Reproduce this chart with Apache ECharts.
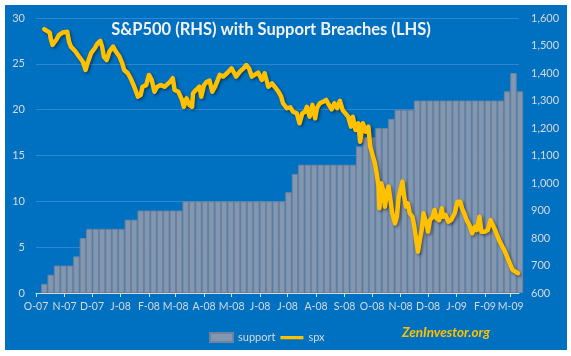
<!DOCTYPE html>
<html><head><meta charset="utf-8">
<script src="https://cdn.jsdelivr.net/npm/echarts@6/dist/echarts.min.js"></script>
<style>html,body{margin:0;padding:0;background:#fff;}#c{position:absolute;left:5px;top:5px;width:562px;height:345px;}</style>
</head><body><div id="c"></div>
<script>
// ---- data ----
const axisStart = '2007-10-01';
const axisEnd = '2009-03-10';
const monthTicks = ['2007-10-01','2007-11-01','2007-12-01','2008-01-01','2008-02-01','2008-03-01','2008-04-01','2008-05-01','2008-06-01','2008-07-01','2008-08-01','2008-09-01','2008-10-01','2008-11-01','2008-12-01','2009-01-01','2009-02-01','2009-03-01'];
const monthLabels = ['O-07','N-07','D-07','J-08','F-08','M-08','A-08','M-08','J-08','J-08','A-08','S-08','O-08','N-08','D-08','J-09','F-09','M-09'];
const leftTicks = [0,5,10,15,20,25,30];
const rightTicks = [600,700,800,900,1000,1100,1200,1300,1400,1500,1600];

// weekly support breaches (week centred on the Wednesday), first week of 2007-10-10
const supportFirstWeek = '2007-10-10';
const supportValues = [1,2,3,3,3,4,6,7,7,7,7,7,7,8,8,9,9,9,9,9,9,9,
  10,10,10,10,10,10,10,10,10,10,10,10,10,10,10,10,
  11,13,14,14,14,14,14,14,14,14,14,16,17,17,18,18,19,20,20,20,
  21,21,21,21,21,21,21,21,21,21,21,21,21,21,22,24,22];

const spxDates = ['2007-10-10','2007-10-16','2007-10-17','2007-10-19','2007-10-23','2007-10-26','2007-10-30','2007-11-04','2007-11-06','2007-11-08',
'2007-11-13','2007-11-15','2007-11-17','2007-11-21','2007-11-24','2007-11-26','2007-11-30','2007-12-04','2007-12-07','2007-12-10',
'2007-12-12','2007-12-14','2007-12-17','2007-12-20','2007-12-24','2007-12-27','2007-12-31','2008-01-03','2008-01-05','2008-01-09',
'2008-01-12','2008-01-16','2008-01-20','2008-01-23','2008-01-25','2008-01-29','2008-02-01','2008-02-04','2008-02-07','2008-02-10',
'2008-02-14','2008-02-18','2008-02-20','2008-02-24','2008-02-27','2008-02-29','2008-03-04','2008-03-08','2008-03-10','2008-03-13',
'2008-03-16','2008-03-19','2008-03-20','2008-03-23','2008-03-27','2008-03-29','2008-04-01','2008-04-04','2008-04-07','2008-04-10',
'2008-04-13','2008-04-16','2008-04-18','2008-04-22','2008-04-26','2008-04-28','2008-05-01','2008-05-04','2008-05-06','2008-05-10',
'2008-05-14','2008-05-17','2008-05-20','2008-05-23','2008-05-26','2008-05-30','2008-06-03','2008-06-06','2008-06-10','2008-06-14',
'2008-06-17','2008-06-21','2008-06-24','2008-06-26','2008-06-30','2008-07-04','2008-07-07','2008-07-11','2008-07-14','2008-07-17',
'2008-07-20','2008-07-22','2008-07-25','2008-07-28','2008-07-31','2008-08-02','2008-08-05','2008-08-09','2008-08-12','2008-08-14',
'2008-08-18','2008-08-21','2008-08-24','2008-08-27','2008-08-30','2008-09-01','2008-09-05','2008-09-08','2008-09-10','2008-09-13',
'2008-09-16','2008-09-18','2008-09-21','2008-09-24','2008-09-27','2008-09-29','2008-10-02','2008-10-04','2008-10-06','2008-10-08',
'2008-10-09','2008-10-11','2008-10-13','2008-10-15','2008-10-17','2008-10-19','2008-10-21','2008-10-23','2008-10-26','2008-10-28',
'2008-10-30','2008-11-01','2008-11-03','2008-11-05','2008-11-07','2008-11-09','2008-11-11','2008-11-14','2008-11-16','2008-11-18',
'2008-11-20','2008-11-22','2008-11-24','2008-11-26','2008-11-29','2008-12-01','2008-12-03','2008-12-06','2008-12-08','2008-12-10',
'2008-12-13','2008-12-16','2008-12-17','2008-12-20','2008-12-23','2008-12-26','2008-12-30','2009-01-02','2009-01-05','2009-01-07',
'2009-01-10','2009-01-12','2009-01-15','2009-01-18','2009-01-21','2009-01-23','2009-01-26','2009-01-28','2009-02-01','2009-02-04',
'2009-02-07','2009-02-09','2009-02-12','2009-02-14','2009-02-17','2009-02-20','2009-02-22','2009-02-25','2009-02-28','2009-03-03',
'2009-03-05','2009-03-09'];
const spxValues = [1559,1547,1526,1502,1520,1538,1547,1550,1514,1496,
1478,1484,1459,1441,1411,1435,1472,1490,1508,1517,
1496,1459,1447,1478,1496,1478,1459,1435,1411,1399,
1381,1350,1314,1320,1350,1356,1393,1375,1332,1350,
1356,1350,1344,1368,1381,1338,1332,1302,1277,1308,
1284,1277,1326,1338,1350,1314,1356,1368,1372,1332,
1350,1375,1393,1387,1399,1393,1417,1399,1387,1405,
1417,1429,1417,1387,1393,1401,1375,1399,1350,1362,
1350,1332,1314,1290,1272,1275,1259,1253,1217,1253,
1259,1277,1241,1284,1235,1272,1290,1296,1302,1290,
1268,1290,1272,1299,1265,1259,1241,1205,1241,1193,
1217,1150,1217,1187,1205,1132,1096,1072,1035,987,
908,999,975,914,963,987,938,890,853,877,
950,975,1005,950,914,926,890,877,841,793,
750,793,829,890,853,823,865,877,902,872,
865,908,877,884,859,865,890,932,932,908,
884,865,847,817,841,829,877,823,823,829,
865,865,829,811,787,768,756,732,708,684,
678,672];

// ---- helpers ----
const t0 = Date.UTC(2007, 9, 1);
function day(s) { return (Date.UTC(+s.slice(0,4), +s.slice(5,7)-1, +s.slice(8,10)) - t0) / 864e5; }
const tickDays = monthTicks.map(day);
const labelOf = {}; tickDays.forEach((d,i)=>{ labelOf[d] = monthLabels[i]; });
const firstWeekDay = day(supportFirstWeek);
const supportData = supportValues.map((v,i)=>[firstWeekDay + 7*i, v]);
const spxData = spxDates.map((d,i)=>[day(d), spxValues[i]]);

const W = 562, H = 345;
const grid = {left: 31, right: 48, top: 13, bottom: 57};
const xMax = day(axisEnd);
const pxPerDay = (W - grid.left - grid.right) / xMax;

const txt = '#d9d9d9';
const font = 'Lato';
const lineIcon = 'path://M0,0h0.01v0.01h-0.01zM0,3h23v3.2H0zM0,9h0.01v0.01h-0.01z';
const chart = echarts.init(document.getElementById('c'), null, {renderer: 'canvas'});
chart.setOption({
  animation: false,
  backgroundColor: '#0070c0',
  textStyle: {fontFamily: font},
  grid: grid,
  graphic: [
    {type: 'text', x: 266, y: 25, style: {text: 'S&P500 (RHS) with Support Breaches (LHS)', fill: '#f2f2f2', font: 'bold 16.5px Lato', textAlign: 'center', textVerticalAlign: 'middle'}},
    {type: 'text', x: 441, y: 328, style: {text: 'ZenInvestor.org', fill: '#ffc000', font: 'italic bold 13.5px Lato', textAlign: 'center', textVerticalAlign: 'middle'}}
  ],
  legend: {
    left: 199, top: 322, itemWidth: 23, itemHeight: 9, itemGap: 5,
    textStyle: {color: txt, fontSize: 11, fontFamily: font},
    data: [{name: 'support', icon: 'rect'}, {name: 'spx', icon: lineIcon, itemStyle: {color: '#ffc000', borderWidth: 0}}]
  },
  xAxis: {
    type: 'value', min: 0, max: xMax,
    axisLine: {show: true, onZero: false, lineStyle: {color: txt, width: 1}},
    axisTick: {show: true, customValues: tickDays, length: 4, lineStyle: {color: txt}},
    axisLabel: {customValues: tickDays, formatter: v => labelOf[v] || '', color: txt, fontSize: 10.5, fontFamily: font, margin: 8},
    splitLine: {show: false}
  },
  yAxis: [
    {type: 'value', min: 0, max: 30, interval: 5, position: 'left',
     axisLine: {show: false}, axisTick: {show: false},
     axisLabel: {color: txt, fontSize: 11, fontFamily: font, margin: 11},
     splitLine: {show: true, lineStyle: {color: '#2f88cf', width: 1}}},
    {type: 'value', min: 600, max: 1600, interval: 100, position: 'right',
     axisLine: {show: false}, axisTick: {show: false},
     axisLabel: {color: txt, fontSize: 11, fontFamily: font, margin: 12,
       formatter: v => v >= 1000 ? Math.floor(v/1000) + ',' + String(v%1000).padStart(3,'0') : String(v)},
     splitLine: {show: false}}
  ],
  series: [
    {name: 'support', type: 'bar', yAxisIndex: 0, data: supportData,
     barWidth: 7 * pxPerDay, clip: true,
     itemStyle: {color: '#8497b0', borderColor: '#6f829e', borderWidth: 1}},
    {name: 'spx', type: 'line', yAxisIndex: 1, data: spxData,
     symbol: 'none', showSymbol: false,
     lineStyle: {color: '#ffc000', width: 4.5, join: 'round', cap: 'round',
       shadowColor: 'rgba(0,0,0,0.45)', shadowBlur: 3, shadowOffsetX: 1.5, shadowOffsetY: 1.5},
     itemStyle: {color: '#ffc000'}}
  ]
});
</script></body></html>
